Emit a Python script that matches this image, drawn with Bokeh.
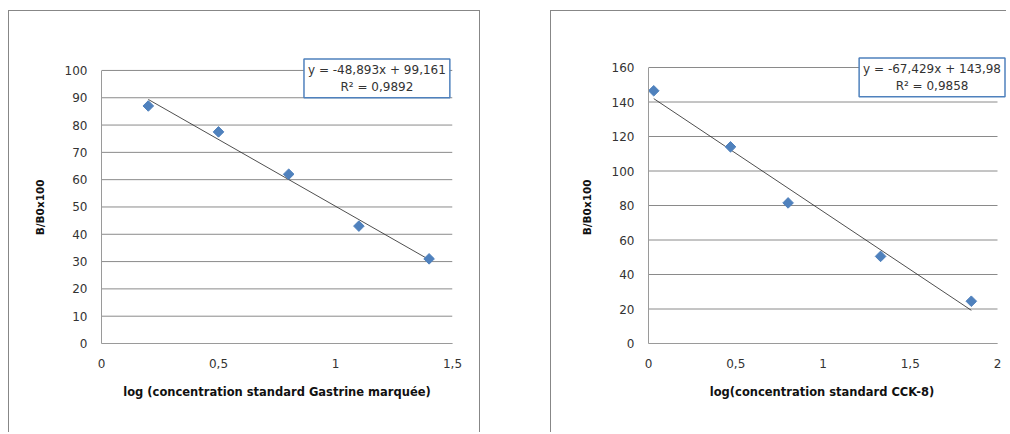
from bokeh.plotting import figure
from bokeh.layouts import row
from bokeh.models import Range1d, FixedTicker, Label, CustomJSTickFormatter
from bokeh.embed import file_html
from bokeh.resources import INLINE

# Standard curve: labelled gastrin
gas_x = [0.2, 0.5, 0.8, 1.1, 1.4]
gas_y = [87, 77.5, 62, 43, 31]
gas_slope, gas_intercept, gas_r2 = -48.893, 99.161, 0.9892
gas_xticks = [0, 0.5, 1, 1.5]
gas_yticks = [0, 10, 20, 30, 40, 50, 60, 70, 80, 90, 100]

# Standard curve: CCK-8
cck_x = [0.03, 0.47, 0.8, 1.33, 1.85]
cck_y = [146.5, 114, 81.5, 50.5, 24.5]
cck_slope, cck_intercept, cck_r2 = -67.429, 143.98, 0.9858
cck_xticks = [0, 0.5, 1, 1.5, 2]
cck_yticks = [0, 20, 40, 60, 80, 100, 120, 140, 160]

FONT = "DejaVu Sans"
BLUE = "#4F81BD"
NBSP = "\u00a0"
comma = CustomJSTickFormatter(code="return String(tick).replace('.', ',');")


def fr(v, nd):
    return f"{v:.{nd}f}".replace(".", ",")


def chart(xs, ys, slope, intercept, r2, nd, axis_x, axis_y, view_x, view_y,
          xticks, yticks, xtitle, ytitle, width, height, borders, label_at, styles, margin):
    bl, br, bt, bb = borders
    # the visible range leaves headroom for the equation box; axes stop at the data bounds
    p = figure(width=width, height=height,
               x_range=Range1d(axis_x[0], view_x), y_range=Range1d(axis_y[0], view_y),
               output_backend="svg", toolbar_location=None,
               min_border_left=bl, min_border_right=br, min_border_top=bt, min_border_bottom=bb)
    p.styles = styles
    p.margin = margin
    p.outline_line_color = None
    p.background_fill_color = "white"
    p.border_fill_color = "white"

    # horizontal gridlines limited to the x-axis extent
    p.xgrid.visible = False
    p.ygrid.visible = False
    p.segment(x0=axis_x[0], x1=axis_x[1], y0=yticks, y1=yticks,
              line_color="#8a8a8a", line_width=1)

    for ax, ticks, bounds in ((p.xaxis, xticks, axis_x), (p.yaxis, yticks, axis_y)):
        ax.ticker = FixedTicker(ticks=ticks)
        ax.bounds = bounds
        ax.formatter = comma
        ax.major_tick_in = 0
        ax.major_tick_out = 0
        ax.minor_tick_line_color = None
        ax.axis_line_color = "#9a9a9a"
        ax.major_label_text_font = FONT
        ax.major_label_text_font_size = "12px"
        ax.major_label_text_color = "#333333"
        ax.axis_label_text_font = FONT
        ax.axis_label_text_font_style = "bold"
        ax.axis_label_text_color = "#111111"
    p.xaxis.axis_label_text_font_size = "11.5px"
    p.yaxis.axis_label_text_font_size = "10.5px"
    p.xaxis.major_label_standoff = 15
    p.yaxis.major_label_standoff = 14
    p.xaxis.axis_label_standoff = 14
    p.yaxis.axis_label_standoff = 16
    p.xaxis.axis_label = xtitle
    p.yaxis.axis_label = ytitle

    # linear trend line over the measured range
    x0, x1 = min(xs), max(xs)
    p.line([x0, x1], [slope * x0 + intercept, slope * x1 + intercept],
           line_color="#222222", line_width=0.8)

    p.scatter(xs, ys, marker="square", size=7.5, angle=0.785398,
              fill_color=BLUE, line_color=BLUE)

    sign = "-" if slope < 0 else ""
    eq = f"y = {sign}{fr(abs(slope), 3)}x + {fr(intercept, nd)}\nR\u00b2 = {fr(r2, 4)}"
    p.add_layout(Label(x=label_at[0], y=label_at[1], text=eq, text_align="center",
                       text_baseline="top", text_font=FONT, text_font_size="12px",
                       text_color="#333333", border_line_color=BLUE, border_line_width=1.5,
                       background_fill_color="white", padding=(4, 4)))
    return p


edge = "1px solid #878787"
left = chart(gas_x, gas_y, gas_slope, gas_intercept, gas_r2, 3,
             (0, 1.5), (0, 100), 1.5, 100 * 288 / 274,
             gas_xticks, gas_yticks, "log (concentration standard Gastrine marqu\u00e9e)",
             "B/B0x100" + NBSP * 4,
             472, 422, (92, 29, 45, 89), (1.177, 104.2),
             {"border-top": edge, "border-left": edge, "border-right": edge}, (10, 0, 0, 8))
right = chart(cck_x, cck_y, cck_slope, cck_intercept, cck_r2, 2,
              (0, 2), (0, 160), 2 * 359 / 349, 160 * 287 / 276,
              cck_xticks, cck_yticks, "log(concentration standard CCK-8)" + NBSP * 3,
              "B/B0x100" + NBSP * 4,
              456, 422, (97, 0, 45, 90), (1.625, 165.5),
              {"border-top": edge, "border-left": edge}, (10, 0, 0, 70))

layout = row(left, right, spacing=0)
open("out.html", "w").write(file_html(layout, INLINE))
